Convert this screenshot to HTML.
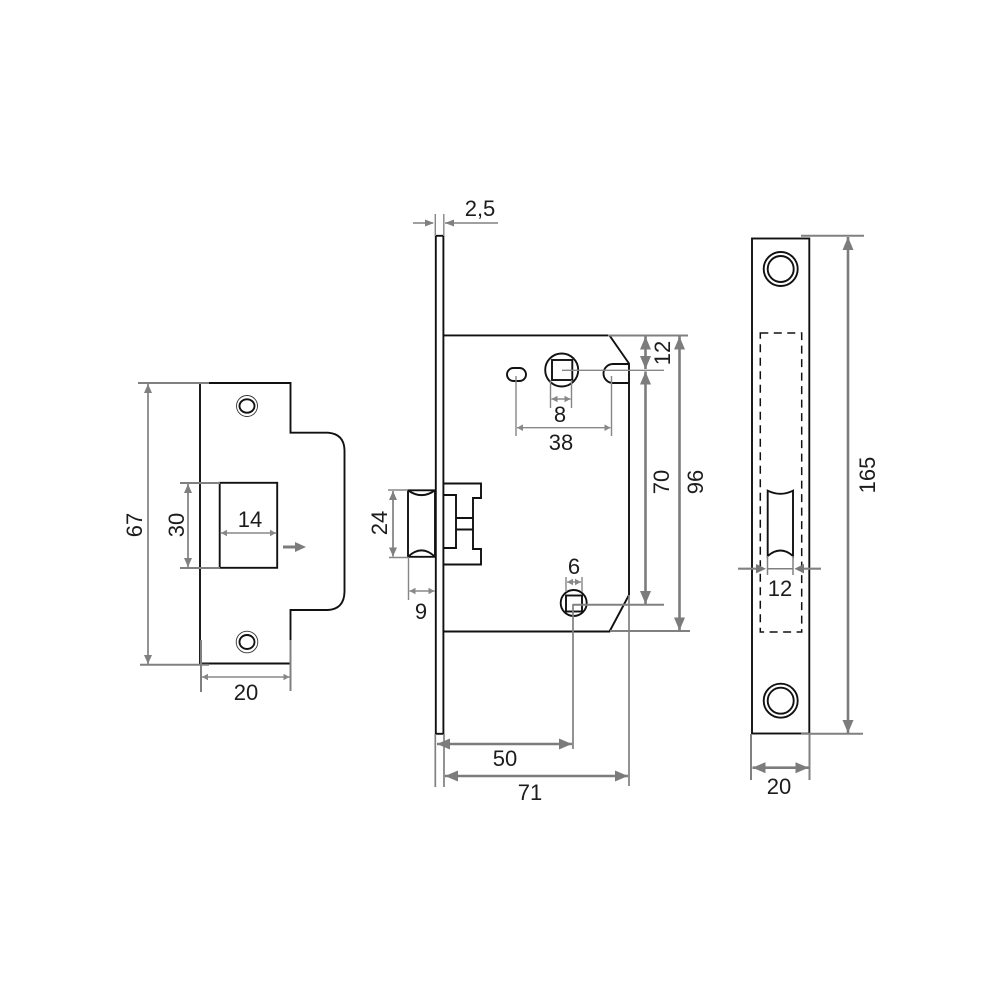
<!DOCTYPE html>
<html><head><meta charset="utf-8"><style>
html,body{margin:0;padding:0;background:#fff}
svg{display:block}
text{font-family:"Liberation Sans",sans-serif;font-size:22px;fill:#1c1c1c;text-anchor:middle}
.k{fill:none;stroke:#111;stroke-width:1.9}
.g{fill:none;stroke:#868686;stroke-width:1.4}
.g2{fill:none;stroke:#808080;stroke-width:2}
.s{stroke:#888;stroke-width:1.4;fill:none;marker-start:url(#a1);marker-end:url(#a1)}
.m{stroke:#808080;stroke-width:1.7;fill:none;marker-start:url(#a2);marker-end:url(#a2)}
.b{stroke:#7c7c7c;stroke-width:2.6;fill:none;marker-start:url(#a3);marker-end:url(#a3)}
</style></head><body>
<svg width="1000" height="1000" viewBox="0 0 1000 1000" xmlns="http://www.w3.org/2000/svg">
<defs>
<marker id="a1" markerUnits="userSpaceOnUse" markerWidth="8" markerHeight="8" refX="6" refY="4" orient="auto-start-reverse"><path d="M0 .7L6 4L0 7.300z" fill="#888"/></marker>
<marker id="a2" markerUnits="userSpaceOnUse" markerWidth="10" markerHeight="10" refX="9" refY="5" orient="auto-start-reverse"><path d="M0 1L9 5L0 9z" fill="#808080"/></marker>
<marker id="a3" markerUnits="userSpaceOnUse" markerWidth="14" markerHeight="12" refX="13" refY="6" orient="auto-start-reverse"><path d="M0 .5L13 6L0 11.500z" fill="#7c7c7c"/></marker>
</defs>

<!-- LEFT strike plate -->
<path class="k" d="M200 383H290.500V432.700H328Q344 434 344.500 450V592Q344 609 328 610H290.500V663.500H200Z"/>
<rect class="k" x="219.700" y="482.800" width="57.500" height="85"/>
<circle cx="247" cy="406" r="10.500" fill="none" stroke="#333" stroke-width=".9"/>
<ellipse cx="247" cy="406" rx="7.500" ry="6.700" class="k"/>
<circle cx="247" cy="642" r="10.800" fill="none" stroke="#333" stroke-width=".9"/>
<ellipse cx="247" cy="642" rx="7.500" ry="7" class="k"/>
<g class="g2">
<path d="M138 383H209M140 664.700H209M180 483H220M180 568H220"/>
<path d="M201 640V692M290.500 640V691"/>
</g>
<path class="m" d="M148 384V664" stroke-width="2"/>
<path class="m" d="M188 484V567"/>
<path class="s" d="M221 533H276"/>
<path class="s" d="M202 677H289.500"/>
<path d="M283 547H296" stroke="#7c7c7c" stroke-width="3"/>
<path d="M295 542L306 547L295 552z" fill="#7c7c7c"/>
<text x="250" y="527">14</text>
<text x="246" y="700">20</text>
<text transform="translate(142 525) rotate(-90)">67</text>
<text transform="translate(184 525) rotate(-90)">30</text>

<!-- MIDDLE lock -->
<rect class="k" x="435.800" y="235.800" width="7.600" height="498"/>
<path class="k" d="M443.400 335.400H609.500L629 363.500V595L609.500 631.500H443.400"/>
<rect x="507" y="368" width="19" height="13" rx="6.500" ry="6.500" class="k"/>
<circle cx="561.700" cy="370" r="16.500" class="k"/>
<rect class="k" x="552" y="360" width="20.300" height="20"/>
<path class="k" d="M629 364H613A9.500 9.500 0 0 0 613 383H629"/>
<circle cx="573.700" cy="603" r="13" class="k"/>
<rect class="k" x="566" y="595.500" width="16" height="16"/>
<!-- bolt -->
<path class="k" d="M408 490.300H435V556.800H408ZM408 490.300Q421.500 500 435 490.300M408 556.800Q421.500 544 435 556.800"/>
<path class="k" d="M443.400 483.500H481V498H473V549H481V564.500H443.400M443.400 495H456V548H443.400M456 518H473M456 529.500H473"/>
<!-- middle dims -->
<g class="g">
<path d="M435.300 214V236M443.800 214V236"/>
<path d="M388 490H408M389 557.500H408M408.500 557V600"/>
<path d="M562 370.300H664M516 376V436M611.500 376V436M550.500 380V408M571.500 380V408"/>
<path d="M566 577V592M582 577V592"/>
</g>
<g class="g2">
<path d="M608 335.500H688M610 631H690M573 604.800H664"/>
<path d="M573 604V749M629 595V786M435.300 734V787M444 734V787" stroke-width="1.700"/>
</g>
<path d="M413 223H433" stroke="#808080" stroke-width="1.500"/><path d="M425 219.500L434 223L425 226.500z" fill="#808080"/>
<path d="M445 223H498" stroke="#808080" stroke-width="1.500"/><path d="M454 219.500L445 223L454 226.500z" fill="#808080"/>
<path class="m" d="M393 491V556.500" stroke-width="2"/>
<path class="s" d="M409.500 591H434.500"/>
<path class="s" d="M517 427.700H610.500"/>
<path class="s" d="M551.500 399H570.500"/>
<path class="s" d="M567 582H581"/>
<path class="b" d="M645.500 336.500V369"/>
<path class="b" d="M645.500 371.500V604"/>
<path class="b" d="M679.500 336.500V630.500"/>
<path class="b" d="M437 744H572"/>
<path class="b" d="M445 776H628"/>
<text x="480" y="216">2,5</text>
<text x="560" y="422">8</text>
<text x="561" y="450">38</text>
<text x="574" y="574">6</text>
<text x="421" y="619">9</text>
<text x="505" y="766">50</text>
<text x="530" y="800">71</text>
<text transform="translate(387 523) rotate(-90)">24</text>
<text transform="translate(670 353) rotate(-90)">12</text>
<text transform="translate(669 482) rotate(-90)">70</text>
<text transform="translate(703 482) rotate(-90)">96</text>

<!-- RIGHT faceplate -->
<rect class="k" x="752" y="238.500" width="57.300" height="495"/>
<circle cx="780.700" cy="269" r="17" class="k"/><circle cx="780.700" cy="269" r="13" class="k" stroke-width="1.600"/>
<circle cx="780.700" cy="700.700" r="17" class="k"/><circle cx="780.700" cy="700.700" r="13" class="k" stroke-width="1.600"/>
<rect x="760.300" y="333" width="41.400" height="299" fill="none" stroke="#111" stroke-width="1.500" stroke-dasharray="8 5.500"/>
<path class="k" d="M767.700 490.700Q780.500 497 793 490.700V556Q780.500 545 767.700 556Z"/>
<g class="g2">
<path d="M801 235.700H864M801 733.700H863M751 734V780M809.500 734V780"/>
<path d="M767.500 556V575M793 556V575" stroke-width="1.500"/>
<path d="M767 568.700H793" stroke-width="1.500"/>
</g>
<path d="M738 568.700H760" stroke="#808080" stroke-width="2.200"/><path d="M756 564L766 568.700L756 573.400z" fill="#777"/>
<path d="M800 568.700H821" stroke="#808080" stroke-width="2.200"/><path d="M804 564L794.500 568.700L804 573.400z" fill="#777"/>
<path class="b" d="M848 237V733"/>
<path class="b" d="M752.500 767.700H808.500"/>
<text x="780" y="596">12</text>
<text x="779" y="794">20</text>
<text transform="translate(875 475) rotate(-90)">165</text>
</svg>
</body></html>
